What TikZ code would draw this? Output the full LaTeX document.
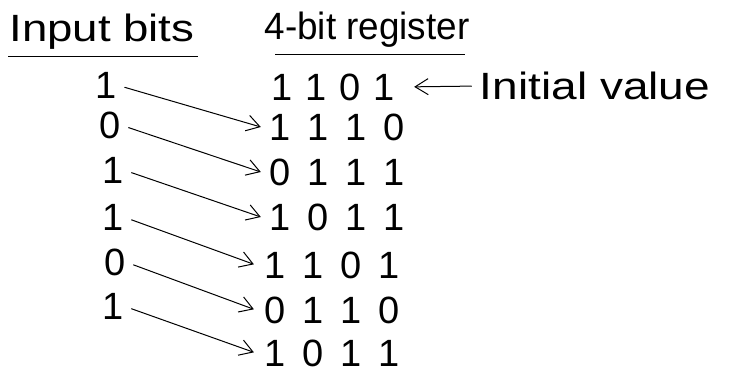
\documentclass[tikz,border=0pt]{standalone}
\usepackage{fontspec}
\setmainfont{Liberation Sans}
\usetikzlibrary{arrows.meta}
\newcommand{\regrow}[5][38pt]{\makebox[#1]{#2}\makebox[#1]{#3}\makebox[#1]{#4}\makebox[#1]{#5}}
\tikzset{
  hand/.style={font=\fontsize{38}{42}\selectfont, inner sep=0pt},
  bit/.style={font=\fontsize{38}{42}\selectfont, inner sep=0pt},
  conn/.style={line width=1pt, -{Straight Barb[length=13pt,width=16pt,line width=1pt]}},
  uline/.style={line width=1pt}
}
\begin{document}
\begin{tikzpicture}[x=1pt,y=-1pt]
\useasboundingbox (0,0) rectangle (741,374);
% headers
\node[hand, xscale=1.2, transform shape] (h1) at (102,32) {Input bits};
\node[hand, xscale=0.97, transform shape] (h2) at (367,30) {4-bit register};
\coordinate (u1a) at (8,57); \coordinate (u1b) at (198,57);
\coordinate (u2a) at (275,55); \coordinate (u2b) at (465,55);
\draw[uline] (u1a) -- (u1b);
\draw[uline] (u2a) -- (u2b);
% input bits
\node[bit] (i1) at (106,85) {1};
\node[bit] (i2) at (110,125) {0};
\node[bit] (i3) at (113,170) {1};
\node[bit] (i4) at (113,217) {1};
\node[bit] (i5) at (115,262) {0};
\node[bit] (i6) at (113,306) {1};
% register rows
\node[bit] (r0) at (333,87) {\regrow[34pt]{1}{1}{0}{1}};
\node[bit] (r1) at (337,127) {\regrow{1}{1}{1}{0}};
\node[bit] (r2) at (337,172) {\regrow{0}{1}{1}{1}};
\node[bit] (r3) at (337,217) {\regrow{1}{0}{1}{1}};
\node[bit] (r4) at (332,265) {\regrow{1}{1}{0}{1}};
\node[bit] (r5) at (332,310) {\regrow{0}{1}{1}{0}};
\node[bit] (r6) at (332,353) {\regrow{1}{0}{1}{1}};
% initial value
\node[hand, xscale=1.21, transform shape] (iv) at (595,86) {Initial value};
\draw[conn, shorten <=8pt, shorten >=13pt] (iv.west) -- (r0.east);
% arrows
\draw[conn, shorten <=8pt, shorten >=0pt] (i1.east) -- (r1.west);
\draw[conn, shorten <=8pt, shorten >=0pt] (i2.east) -- (r2.west);
\draw[conn, shorten <=8pt, shorten >=0pt] (i3.east) -- (r3.west);
\draw[conn, shorten <=8pt, shorten >=2pt] (i4.east) -- (r4.west);
\draw[conn, shorten <=8pt, shorten >=2pt] (i5.east) -- (r5.west);
\draw[conn, shorten <=8pt, shorten >=2pt] (i6.east) -- (r6.west);
\end{tikzpicture}
\end{document}
